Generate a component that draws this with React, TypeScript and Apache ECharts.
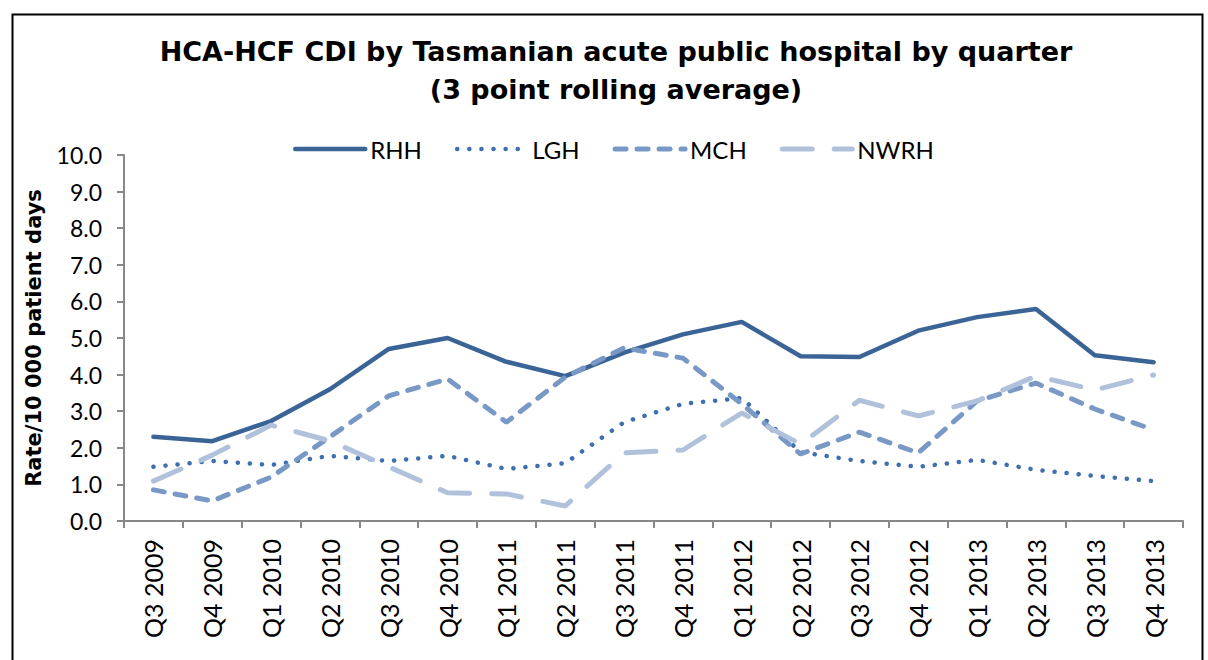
import React, { useEffect, useRef } from "react";
import * as echarts from "echarts";

const categories = [
  "Q3 2009", "Q4 2009", "Q1 2010", "Q2 2010", "Q3 2010", "Q4 2010",
  "Q1 2011", "Q2 2011", "Q3 2011", "Q4 2011", "Q1 2012", "Q2 2012",
  "Q3 2012", "Q4 2012", "Q1 2013", "Q2 2013", "Q3 2013", "Q4 2013",
];
const rhh = [2.3, 2.18, 2.73, 3.6, 4.7, 5.0, 4.35, 3.96, 4.6, 5.1, 5.44, 4.5, 4.48, 5.2, 5.57, 5.79, 4.53, 4.34];
const lgh = [1.48, 1.64, 1.53, 1.78, 1.64, 1.78, 1.42, 1.58, 2.7, 3.2, 3.36, 1.88, 1.64, 1.48, 1.67, 1.4, 1.23, 1.09];
const mch = [0.85, 0.55, 1.2, 2.3, 3.42, 3.88, 2.7, 3.93, 4.73, 4.45, 3.2, 1.83, 2.43, 1.86, 3.28, 3.77, 3.06, 2.49];
const nwrh = [1.09, 1.8, 2.62, 2.19, 1.48, 0.77, 0.74, 0.41, 1.86, 1.94, 2.95, 2.1, 3.3, 2.87, 3.28, 3.96, 3.58, 3.99];

const FONT = "Lato, 'Open Sans', sans-serif";
const BOLD = "'DejaVu Sans', sans-serif";

const styles: Record<string, any> = {
  RHH: { width: 4.5, color: "#3B6496", type: "solid", cap: "round" },
  LGH: { width: 4.5, color: "#3F6FAE", type: [0.1, 12], cap: "round" },
  MCH: { width: 5, color: "#7898C6", type: [11, 11], cap: "round" },
  NWRH: { width: 5, color: "#B0C1DC", type: [30, 22], cap: "round" },
};

export default function App() {
  const ref = useRef<HTMLDivElement>(null);
  useEffect(() => {
    const chart = echarts.init(ref.current!, null, { renderer: "svg" });
    const names = ["RHH", "LGH", "MCH", "NWRH"];
    chart.setOption({
      animation: false,
      backgroundColor: "#ffffff",
      textStyle: { fontFamily: FONT },
      title: {
        text: "HCA-HCF CDI by Tasmanian acute public hospital by quarter\n(3 point rolling average)",
        left: 611,
        textAlign: "center",
        top: 27,
        textStyle: { fontFamily: BOLD, fontSize: 27, fontWeight: "bold", color: "#000", lineHeight: 38 },
      },
      legend: {
        left: 288,
        top: 132,
        itemWidth: 70,
        itemHeight: 26,
        itemGap: 33,
        itemStyle: { opacity: 0 },
        textStyle: { fontFamily: FONT, fontSize: 24, color: "#000", padding: [0, 0, 0, 0] },
        data: names.map((n) => ({ name: n, lineStyle: { ...styles[n] } })),
      },
      grid: { left: 124, right: 25, top: 155, bottom: 139 },
      xAxis: {
        type: "category",
        data: categories,
        boundaryGap: true,
        axisLine: { lineStyle: { color: "#888", width: 2 } },
        axisTick: { show: true, length: 7, lineStyle: { color: "#888", width: 2 } },
        axisLabel: { rotate: 90, margin: 18, fontSize: 25, color: "#000", fontFamily: FONT, interval: 0 },
        splitLine: { show: false },
      },
      yAxis: {
        type: "value",
        min: 0,
        max: 10,
        interval: 1,
        name: "Rate/10 000 patient days",
        nameLocation: "middle",
        nameGap: 80,
        nameTextStyle: { fontFamily: BOLD, fontSize: 21, fontWeight: "bold", color: "#000" },
        axisLine: { show: true, lineStyle: { color: "#888", width: 2 } },
        axisTick: { show: true, length: 7, lineStyle: { color: "#888", width: 2 } },
        axisLabel: { fontSize: 23, color: "#000", fontFamily: FONT, margin: 22, formatter: (v: number) => v.toFixed(1) },
        splitLine: { show: false },
      },
      series: names.map((n, i) => ({
        name: n,
        type: "line",
        data: [rhh, lgh, mch, nwrh][i],
        symbol: "none",
        color: styles[n].color,
        lineStyle: { ...styles[n] },
      })),
      graphic: [
        { type: "rect", left: 10, top: 12, shape: { x: 0, y: 0, width: 1190, height: 700 }, style: { fill: "none", stroke: "#000", lineWidth: 2 }, silent: true },
      ],
    });
    return () => chart.dispose();
  }, []);
  return <div ref={ref} style={{ position: "absolute", left: 0, top: 0, width: 1208, height: 660 }} />;
}
